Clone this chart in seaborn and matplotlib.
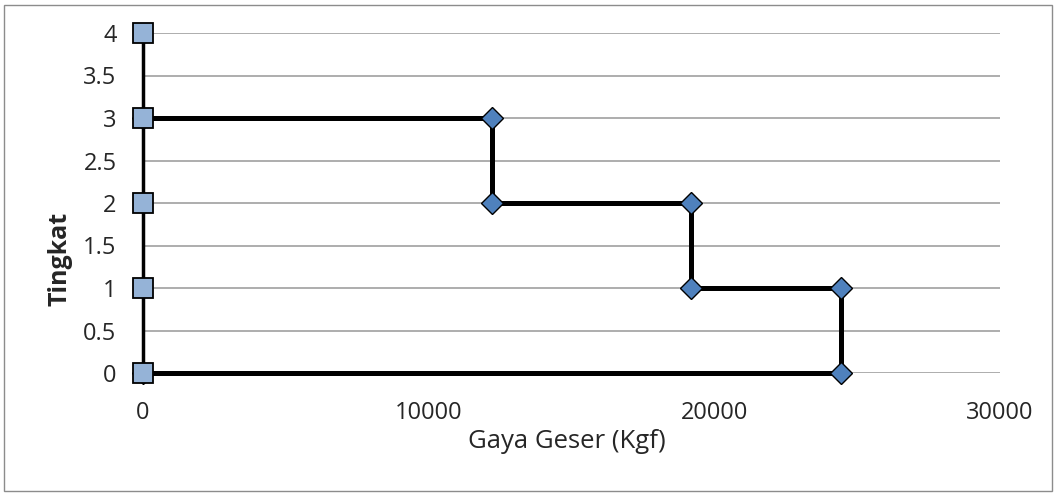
import matplotlib
matplotlib.use("Agg")
import matplotlib.pyplot as plt
import seaborn as sns
import pandas as pd
from matplotlib.patches import Rectangle

# Data
gaya_x = [0, 12200, 12200, 19200, 19200, 24450, 24450, 0]
gaya_y = [3, 3, 2, 2, 1, 1, 0, 0]
tingkat_x = [0, 0, 0, 0, 0]
tingkat_y = [0, 1, 2, 3, 4]
x_ticks = [0, 10000, 20000, 30000]
y_ticks = [0, 0.5, 1, 1.5, 2, 2.5, 3, 3.5, 4]
y_ticklabels = ["0", "0.5", "1", "1.5", "2", "2.5", "3", "3.5", "4"]

sns.set_theme(style="white")
plt.rcParams['font.family'] = ['Open Sans', 'DejaVu Sans']

W, H = 1057, 495
fig = plt.figure(figsize=(W/100, H/100), dpi=100)
ax = fig.add_axes([143/W, 1-373/H, (1000-143)/W, (373-33)/H])

df1 = pd.DataFrame({"x": gaya_x, "y": gaya_y})
df2 = pd.DataFrame({"x": tingkat_x, "y": tingkat_y})

for yv in y_ticks:
    ax.axhline(yv, color="#a0a0a0", lw=1.2, zorder=0)

sns.lineplot(data=df1, x="x", y="y", sort=False, estimator=None, ax=ax,
             color="black", lw=3.6, marker="D", markersize=11,
             markerfacecolor="#4f81bd", markeredgecolor="black",
             markeredgewidth=1.0, clip_on=False, zorder=3)
sns.lineplot(data=df2, x="x", y="y", sort=False, estimator=None, ax=ax,
             color="black", lw=2.5, marker="s", markersize=14,
             markerfacecolor="#95b3d7", markeredgecolor="black",
             markeredgewidth=1.3, clip_on=False, zorder=4)

ax.set_xlim(0, 30000)
ax.set_ylim(0, 4)
ax.set_xticks(x_ticks)
ax.set_xticklabels([str(v) for v in x_ticks])
ax.set_yticks(y_ticks)
ax.set_yticklabels(y_ticklabels)
ax.tick_params(axis="x", length=0, pad=20, labelsize=17)
ax.tick_params(axis="y", length=0, pad=19, labelsize=17)
for s in ax.spines.values():
    s.set_visible(False)
ax.grid(False)
ax.set_xlabel("")
ax.set_ylabel("")

fig.text(567/W, 1-441/H, "Gaya Geser (Kgf)", fontsize=18.5,
         ha="center", va="center")
fig.text(60/W, 1-259/H, "Tingkat", fontsize=18, fontweight="bold",
         rotation=90, ha="center", va="center")

fig.patches.append(Rectangle((4/W, 4/H), 1-9/W, 1-9/H,
                             transform=fig.transFigure, fill=False,
                             edgecolor="#8c8c8c", lw=1.0))

fig.savefig("out.png", dpi=100)
